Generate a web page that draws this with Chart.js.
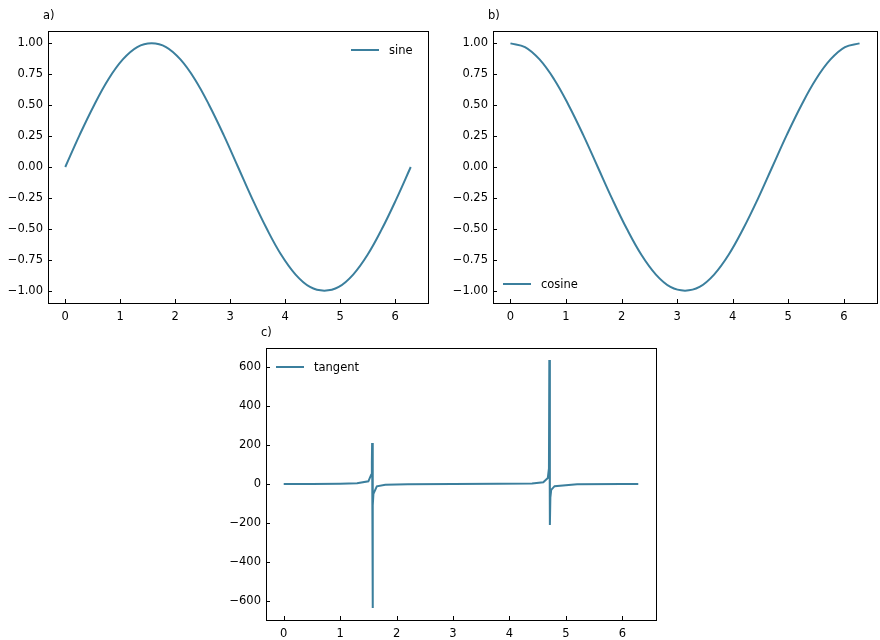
<!DOCTYPE html>
<html><head><meta charset="utf-8">
<script src="https://cdn.jsdelivr.net/npm/chart.js@4/dist/chart.umd.min.js"></script>
<style>body{margin:0;background:#fff;width:880px;height:640px;position:relative;overflow:hidden}canvas{position:absolute}</style>
</head><body>
<canvas id="a" style="left:0;top:0"></canvas>
<canvas id="b" style="left:440px;top:0"></canvas>
<canvas id="c" style="left:220px;top:320px"></canvas>
<script>
const xs=[0,0.262,0.524,0.785,1.047,1.309,1.571,1.833,2.094,2.356,2.618,2.880,3.142,3.403,3.665,3.927,4.189,4.451,4.712,4.974,5.236,5.498,5.760,6.021,6.283];
const sineVals=[0,0.26,0.5,0.71,0.87,0.97,1,0.97,0.87,0.71,0.5,0.26,0,-0.26,-0.5,-0.71,-0.87,-0.97,-1,-0.97,-0.87,-0.71,-0.5,-0.26,0];
const cosVals=[1,0.97,0.87,0.71,0.5,0.26,0,-0.26,-0.5,-0.71,-0.87,-0.97,-1,-0.97,-0.87,-0.71,-0.5,-0.26,0,0.26,0.5,0.71,0.87,0.97,1];
const tanX=[0,0.5,1.0,1.3,1.5,1.55,1.562,1.5665,1.5755,1.58,1.59,1.65,1.8,2.2,3.0,3.8,4.4,4.6,4.68,4.70,4.7065,4.7165,4.725,4.74,4.8,5.2,6.0,6.283];
const tanVals=[0,0.5,1.6,3.6,14,48,110,210,-635,-110,-50,-12,-4.3,-1.4,-0.1,0.8,3.1,9,31,80,635,-210,-70,-30,-11,-1.9,-0.3,0];
const yTicks1=[-1,-0.75,-0.5,-0.25,0,0.25,0.5,0.75,1];
const yTicks3=[-600,-400,-200,0,200,400,600];
const xTicks=[0,1,2,3,4,5,6];
const COLOR='#3b7f9d';
const FONT='"DejaVu Sans", sans-serif';
Chart.defaults.font.family=FONT;Chart.defaults.font.size=11.5;Chart.defaults.color='#000';
function fmt(v,dec){const s=Math.abs(v).toFixed(dec);return v<0?'\u2212'+s:s;}
function mk(id,w,h,pad,yw,xh,data,ymin,ymax,yt,dec,label,legendPos,title){
  const cv=document.getElementById(id);cv.width=w;cv.height=h;cv.style.width=w+'px';cv.style.height=h+'px';
  const plug={id:'p'+id,afterDraw(ch){const c=ch.ctx,a=ch.chartArea;c.save();c.strokeStyle='#000';c.lineWidth=1;
    c.strokeRect(Math.round(a.left)+0.5,Math.round(a.top)+0.5,Math.round(a.right-a.left),Math.round(a.bottom-a.top));
    c.beginPath();
    xTicks.forEach(v=>{const px=Math.round(ch.scales.x.getPixelForValue(v))+0.5;c.moveTo(px,a.bottom);c.lineTo(px,a.bottom-4);});
    yt.forEach(v=>{const py=Math.round(ch.scales.y.getPixelForValue(v))+0.5;c.moveTo(a.left,py);c.lineTo(a.left+4,py);});
    c.stroke();
    c.font='11.5px '+FONT;c.fillStyle='#000';c.textBaseline='middle';
    c.fillText(title,a.left-5,a.top-15);
    const lx=legendPos[0]==='r'?a.right-77:a.left+10, ly=legendPos[1]==='t'?a.top+19:a.bottom-19;
    c.strokeStyle=COLOR;c.lineWidth=2;c.beginPath();c.moveTo(lx,ly);c.lineTo(lx+28,ly);c.stroke();
    c.fillText(label,lx+38,ly+1);c.restore();}};
  new Chart(cv,{type:'line',data:{datasets:[{data:data,borderColor:COLOR,borderWidth:2,pointRadius:0,tension:dec===0?0:0.4,fill:false}]},
    options:{responsive:false,animation:false,plugins:{legend:{display:false},tooltip:{enabled:false}},layout:{padding:pad},
    scales:{x:{type:'linear',min:-0.314,max:6.597,afterBuildTicks(s){s.ticks=xTicks.map(v=>({value:v}));},afterFit(s){s.height=xh;},
      grid:{display:false,drawTicks:false},border:{display:false},ticks:{padding:7,callback:v=>String(v)}},
     y:{type:'linear',min:ymin,max:ymax,afterBuildTicks(s){s.ticks=yt.map(v=>({value:v}));},afterFit(s){s.width=yw;},
      grid:{display:false,drawTicks:false},border:{display:false},ticks:{padding:5,callback:v=>fmt(v,dec)}}}},
    plugins:[plug]});
}
const pts=(X,Y)=>X.map((x,i)=>({x:x,y:Y[i]}));
mk('a',440,320,{top:31,right:12,left:0,bottom:0},48,17,pts(xs,sineVals),-1.1,1.1,yTicks1,2,'sine','rt','a)');
mk('b',440,320,{top:31,right:3,left:0,bottom:0},53,17,pts(xs,cosVals),-1.1,1.1,yTicks1,2,'cosine','lb','b)');
mk('c',440,320,{top:28,right:4,left:0,bottom:0},46,20,pts(tanX,tanVals),-697,697,yTicks3,0,'tangent','lt','c)');
</script></body></html>
